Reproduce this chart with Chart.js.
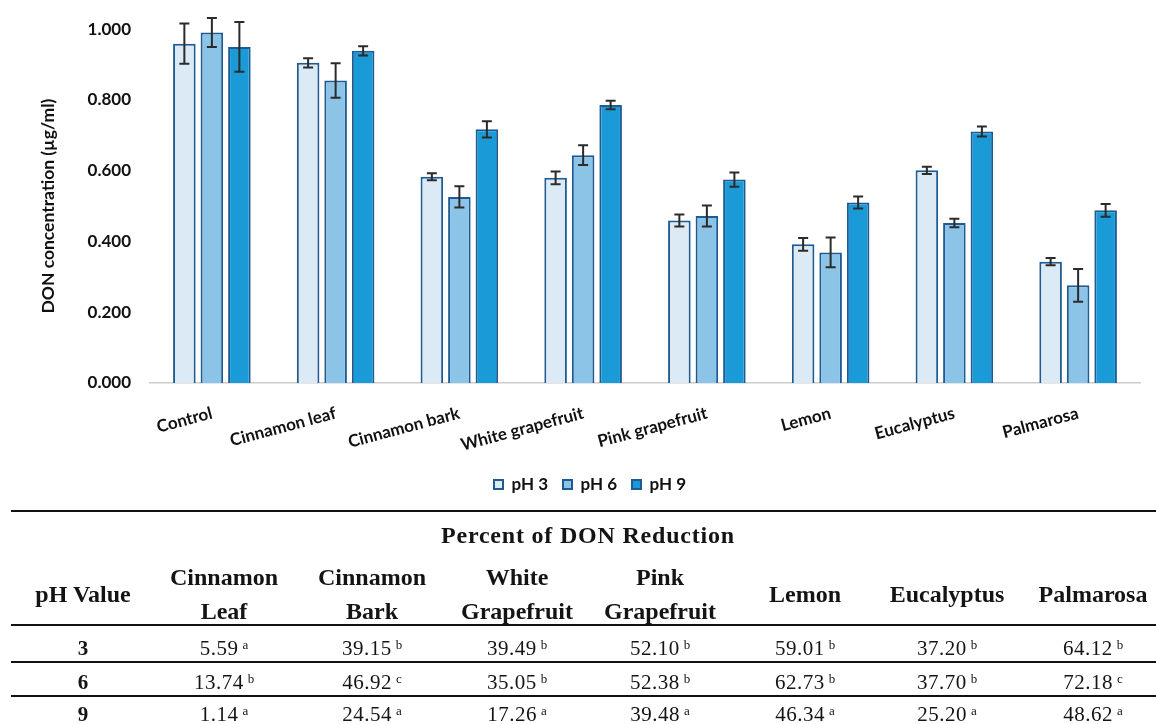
<!DOCTYPE html>
<html>
<head>
<meta charset="utf-8">
<title>DON concentration by essential oil and pH</title>
<script src="https://cdn.jsdelivr.net/npm/chart.js@4.4.1/dist/chart.umd.min.js"></script>
<style>
  html, body { margin: 0; padding: 0; background: #ffffff; width: 1156px; height: 724px; overflow: hidden; }
  #chartBox { position: absolute; left: 0; top: 0; width: 1156px; height: 505px; }
  #tableBox { position: absolute; left: 0; top: 0; width: 1156px; height: 724px; font-family: "Liberation Serif", serif; color: #141414; }
  .rule { position: absolute; left: 11px; width: 1160px; height: 2px; background: #111111; }
  .cell { position: absolute; transform: translate(-50%, -50%); line-height: 1; white-space: nowrap; }
  .hd { font-weight: bold; font-size: 24px; }
  .ttl { letter-spacing: 0.8px; }
  .rl { font-weight: bold; font-size: 21px; }
  .val { font-size: 21px; letter-spacing: 0.5px; }
  .val .sig { font-size: 13px; position: relative; top: -6px; margin-left: 4px; letter-spacing: 0; }
</style>
</head>
<body>
<div id="chartBox"><canvas id="donChart" width="1156" height="505"></canvas></div>
<div id="tableBox"></div>
<script>
// Essential oils tested (x categories) and pH series
const categories = ['Control', 'Cinnamon leaf', 'Cinnamon bark', 'White grapefruit', 'Pink grapefruit', 'Lemon', 'Eucalyptus', 'Palmarosa'];
const seriesNames = ['pH 3', 'pH 6', 'pH 9'];

// Mean DON concentration (µg/ml)
const donPH3 = [0.959, 0.905, 0.583, 0.580, 0.459, 0.392, 0.601, 0.343];
const donPH6 = [0.991, 0.855, 0.526, 0.644, 0.472, 0.369, 0.452, 0.276];
const donPH9 = [0.950, 0.939, 0.717, 0.786, 0.575, 0.510, 0.711, 0.488];

// Standard deviations (error bars)
const errPH3 = [0.057, 0.013, 0.010, 0.018, 0.017, 0.018, 0.010, 0.010];
const errPH6 = [0.041, 0.049, 0.030, 0.028, 0.030, 0.042, 0.012, 0.046];
const errPH9 = [0.070, 0.013, 0.023, 0.012, 0.020, 0.017, 0.014, 0.018];

// Y axis tick values
const yTickValues = [0, 0.2, 0.4, 0.6, 0.8, 1.0];

// Reduction table
const tableTitle = 'Percent of DON Reduction';
const tableHeaders = [['pH Value'], ['Cinnamon', 'Leaf'], ['Cinnamon', 'Bark'], ['White', 'Grapefruit'], ['Pink', 'Grapefruit'], ['Lemon'], ['Eucalyptus'], ['Palmarosa']];
const phValues = ['3', '6', '9'];
const reductionPH3 = [5.59, 39.15, 39.49, 52.10, 59.01, 37.20, 64.12];
const reductionPH6 = [13.74, 46.92, 35.05, 52.38, 62.73, 37.70, 72.18];
const reductionPH9 = [1.14, 24.54, 17.26, 39.48, 46.34, 25.20, 48.62];
const lettersPH3 = ['a', 'b', 'b', 'b', 'b', 'b', 'b'];
const lettersPH6 = ['b', 'c', 'b', 'b', 'b', 'b', 'c'];
const lettersPH9 = ['a', 'a', 'a', 'a', 'a', 'a', 'a'];

const fillColors = ['#dceaf6', '#8cc4e8', '#1a9bd7'];
const edgeColor = '#1f5a91';
const uiFont = 'Lato';

// Draws vertical error bars with caps over each bar
const errorBars = {
  id: 'errorBars',
  afterDatasetsDraw(chart) {
    const ctx = chart.ctx;
    const yScale = chart.scales.y;
    ctx.save();
    ctx.strokeStyle = '#2b2b2b';
    ctx.lineWidth = 2;
    chart.data.datasets.forEach((ds, di) => {
      const meta = chart.getDatasetMeta(di);
      meta.data.forEach((bar, i) => {
        const v = ds.data[i];
        const e = ds.errors[i];
        const yTop = yScale.getPixelForValue(v + e);
        const yBot = yScale.getPixelForValue(v - e);
        const x = bar.x;
        const cap = 5;
        ctx.beginPath();
        ctx.moveTo(x, yTop); ctx.lineTo(x, yBot);
        ctx.moveTo(x - cap, yTop); ctx.lineTo(x + cap, yTop);
        ctx.moveTo(x - cap, yBot); ctx.lineTo(x + cap, yBot);
        ctx.stroke();
      });
    });
    ctx.restore();
  }
};

// Nudges the legend row a little to the right of the canvas centre
const legendShift = {
  id: 'legendShift',
  afterLayout(chart) {
    if (chart.legend) {
      chart.legend.left += 20;
      chart.legend.right += 20;
    }
  }
};

const seriesData = [donPH3, donPH6, donPH9];
const seriesErr = [errPH3, errPH6, errPH9];

new Chart(document.getElementById('donChart'), {
  type: 'bar',
  data: {
    labels: categories,
    datasets: seriesNames.map((name, k) => ({
      label: name,
      data: seriesData[k],
      errors: seriesErr[k],
      backgroundColor: fillColors[k],
      borderColor: edgeColor,
      borderWidth: 2,
      categoryPercentage: 0.667,
      barPercentage: 0.82
    }))
  },
  options: {
    responsive: false,
    animation: false,
    devicePixelRatio: 1,
    layout: { padding: { left: 0, right: 16, top: 26, bottom: 2 } },
    plugins: {
      legend: {
        position: 'bottom',
        labels: {
          boxWidth: 9, boxHeight: 9, padding: 15,
          font: { family: uiFont, weight: 'bold', size: 17 },
          color: '#111111'
        }
      },
      tooltip: { enabled: false }
    },
    scales: {
      x: {
        grid: { display: false, drawTicks: false },
        border: { display: true, color: '#cccccc', width: 1.5 },
        ticks: {
          autoSkip: false, minRotation: 15, maxRotation: 15, padding: 20,
          font: { family: uiFont, weight: 'bold', size: 17 },
          color: '#111111'
        },
        afterFit(scale) { scale.height = 78; }
      },
      y: {
        min: 0, max: 1,
        afterBuildTicks(scale) { scale.ticks = yTickValues.map(v => ({ value: v })); },
        grid: { display: false, drawTicks: false },
        border: { display: false },
        ticks: {
          padding: 19,
          callback: v => Number(v).toFixed(3),
          font: { family: uiFont, weight: 'bold', size: 17 },
          color: '#111111'
        },
        title: {
          display: true,
          text: 'DON concentration (µg/ml)',
          font: { family: uiFont, weight: 'bold', size: 17.5 },
          color: '#111111',
          padding: { top: 38, bottom: 0 }
        },
        afterFit(scale) { scale.width = 150; }
      }
    }
  },
  plugins: [errorBars, legendShift]
});

// Reduction table, laid out below the chart
(function buildTable() {
  const box = document.getElementById('tableBox');
  const colX = [83, 224, 372, 517, 660, 805, 947, 1093];
  const rowY = [648, 682, 714];
  const ruleY = [510, 624, 661, 695];
  const rows = [
    { values: reductionPH3, letters: lettersPH3 },
    { values: reductionPH6, letters: lettersPH6 },
    { values: reductionPH9, letters: lettersPH9 }
  ];

  function place(cls, x, y, html) {
    const d = document.createElement('div');
    d.className = 'cell ' + cls;
    d.style.left = x + 'px';
    d.style.top = y + 'px';
    d.innerHTML = html;
    box.appendChild(d);
  }

  ruleY.forEach(y => {
    const r = document.createElement('div');
    r.className = 'rule';
    r.style.top = y + 'px';
    box.appendChild(r);
  });

  place('hd ttl', 588, 535, tableTitle);
  tableHeaders.forEach((lines, c) => {
    if (lines.length === 1) {
      place('hd', colX[c], 594, lines[0]);
    } else {
      place('hd', colX[c], 577, lines[0]);
      place('hd', colX[c], 611, lines[1]);
    }
  });

  rows.forEach((row, r) => {
    place('rl', colX[0], rowY[r], phValues[r]);
    row.values.forEach((v, c) => {
      place('val', colX[c + 1], rowY[r], v.toFixed(2) + '<span class="sig">' + row.letters[c] + '</span>');
    });
  });
})();
</script>
</body>
</html>
